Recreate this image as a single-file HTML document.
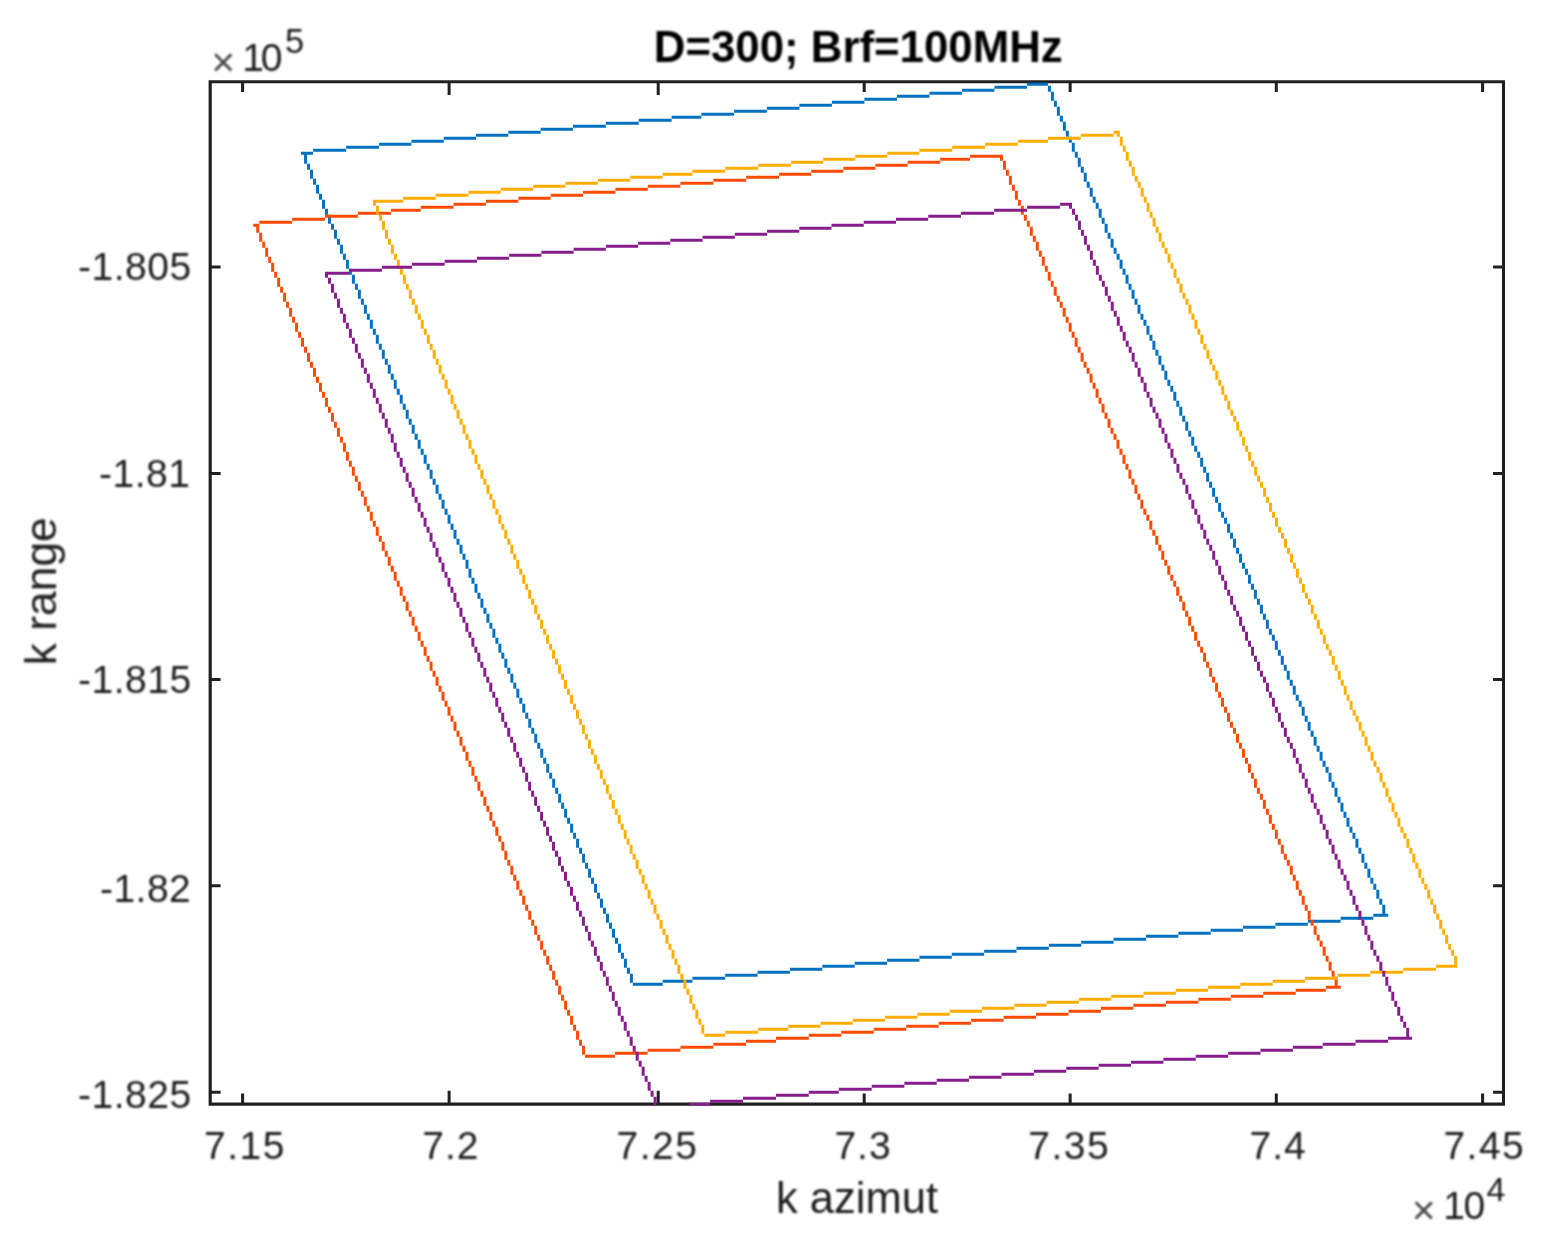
<!DOCTYPE html>
<html lang="en">
<head>
<meta charset="utf-8">
<title>D=300; Brf=100MHz</title>
<style>
html,body{margin:0;padding:0;background:#fff;}
body{width:1544px;height:1250px;overflow:hidden;}
svg{display:block;}
text{font-family:"Liberation Sans",sans-serif;white-space:pre;}
</style>
</head>
<body>
<svg width="1544" height="1250" viewBox="0 0 1544 1250">
<rect width="1544" height="1250" fill="#fff"/>
<defs><filter id="b2" x="-2%" y="-2%" width="104%" height="104%" color-interpolation-filters="sRGB"><feGaussianBlur stdDeviation="0.8"/></filter><clipPath id="c"><rect x="208.6" y="80.2" width="1296.4" height="1025.5"/></clipPath></defs>
<path fill="#202020" d="M208.6 80.2H1505V83.2H208.6ZM208.6 1102.6H1505V1105.7H208.6ZM208.6 80.2H211.8V1105.7H208.6ZM1502 80.2H1505V1105.7H1502ZM241.1 82.7H244.1V92H241.1ZM241.1 1093.6H244.1V1103.1H241.1ZM447.6 82.7H450.6V94.9H447.6ZM447.6 1090.7H450.6V1103.1H447.6ZM656.7 82.7H659.7V94.9H656.7ZM656.7 1090.7H659.7V1103.1H656.7ZM862.7 82.7H865.7V92H862.7ZM862.7 1093.6H865.7V1103.1H862.7ZM1068.65 82.7H1071.65V92H1068.65ZM1068.65 1093.6H1071.65V1103.1H1068.65ZM1274.8 82.7H1277.8V92H1274.8ZM1274.8 1093.6H1277.8V1103.1H1274.8ZM1481.1 82.7H1484.1V92H1481.1ZM1481.1 1093.6H1484.1V1103.1H1481.1ZM211.3 265.5H220.6V268.5H211.3ZM1493 265.5H1502.5V268.5H1493ZM211.3 471.9H220.6V474.9H211.3ZM1493 471.9H1502.5V474.9H1493ZM211.3 678.1H220.6V681.1H211.3ZM1493 678.1H1502.5V681.1H1493ZM211.3 884.3H220.6V887.3H211.3ZM1493 884.3H1502.5V887.3H1493ZM211.3 1090.7H220.6V1093.7H211.3ZM1493 1090.7H1502.5V1093.7H1493Z"/>
<g clip-path="url(#c)"><g>
<path fill="#0070C0" d="M300.96 151.8H313.13V154.8H300.96ZM313.13 148.8H346.17V151.8H313.13ZM346.17 145.8H379.07V148.8H346.17ZM379.07 142.8H411.38V145.8H379.07ZM411.38 139.8H443.7V142.8H411.38ZM443.7 136.8H476.01V139.8H443.7ZM476.01 133.8H508.32V136.8H476.01ZM508.32 130.8H540.64V133.8H508.32ZM540.64 127.8H572.95V130.8H540.64ZM572.95 124.8H605.85V127.8H572.95ZM605.85 121.8H638.76V124.8H605.85ZM638.76 118.8H671.6V121.8H638.76ZM671.6 115.8H701.35V118.8H671.6ZM701.35 112.8H734.1V115.8H701.35ZM734.1 109.8H766.9V112.8H734.1ZM766.9 106.8H799.4V109.8H766.9ZM799.4 103.8H831.91V106.8H799.4ZM831.91 100.8H864.41V103.8H831.91ZM864.41 97.8H896.92V100.8H864.41ZM896.92 94.8H929.43V97.8H896.92ZM929.43 91.8H961.93V94.8H929.43ZM961.93 88.8H994.44V91.8H961.93ZM994.44 85.8H1026.94V88.8H994.44ZM1026.94 82.8H1047.93V85.8H1026.94ZM632.84 982.8H662.73V985.8H632.84ZM662.73 979.8H692.45V982.8H662.73ZM692.45 976.8H725.2V979.8H692.45ZM725.2 973.8H757.57V976.8H725.2ZM757.57 970.8H789.93V973.8H757.57ZM789.93 967.8H822.3V970.8H789.93ZM822.3 964.8H854.67V967.8H822.3ZM854.67 961.8H887.03V964.8H854.67ZM887.03 958.8H919.4V961.8H887.03ZM919.4 955.8H951.77V958.8H919.4ZM951.77 952.8H984.13V955.8H951.77ZM984.13 949.8H1016.5V952.8H984.13ZM1016.5 946.8H1048.87V949.8H1016.5ZM1048.87 943.8H1081.23V946.8H1048.87ZM1081.23 940.8H1113.6V943.8H1081.23ZM1113.6 937.8H1145.97V940.8H1113.6ZM1145.97 934.8H1178.33V937.8H1145.97ZM1178.33 931.8H1210.7V934.8H1178.33ZM1210.7 928.8H1243.07V931.8H1210.7ZM1243.07 925.8H1275.43V928.8H1243.07ZM1275.43 922.8H1307.8V925.8H1275.43ZM1307.8 919.8H1340.6V922.8H1307.8ZM1340.6 916.8H1373.3V919.8H1340.6ZM1373.3 913.8H1388.2V916.8H1373.3ZM304.07 154.8H307.06V163.8H304.07ZM307.06 163.8H310.05V169.8H307.06ZM310.05 169.8H313.04V178.8H310.05ZM313.04 178.8H316.03V184.8H313.04ZM316.03 184.8H319.02V193.8H316.03ZM319.02 193.8H322.01V199.8H319.02ZM322.01 199.8H325V208.8H322.01ZM325 208.8H327.98V214.8H325ZM327.98 214.8H330.97V223.8H327.98ZM330.97 223.8H333.96V229.8H330.97ZM333.96 229.8H336.95V238.8H333.96ZM336.95 238.8H339.94V244.8H336.95ZM339.94 244.8H342.93V253.8H339.94ZM342.93 253.8H345.92V259.8H342.93ZM345.92 259.8H348.91V268.8H345.92ZM348.91 268.8H351.9V274.8H348.91ZM351.9 274.8H354.89V283.8H351.9ZM354.89 283.8H357.88V289.8H354.89ZM357.88 289.8H360.87V298.8H357.88ZM360.87 298.8H363.86V304.8H360.87ZM363.86 304.8H366.85V313.8H363.86ZM366.85 313.8H369.83V319.8H366.85ZM369.83 319.8H372.82V328.8H369.83ZM372.82 328.8H375.81V334.8H372.82ZM375.81 334.8H378.8V343.8H375.81ZM378.8 343.8H381.79V349.8H378.8ZM381.79 349.8H384.78V358.8H381.79ZM384.78 358.8H387.77V364.8H384.78ZM387.77 364.8H390.76V373.8H387.77ZM390.76 373.8H393.75V379.8H390.76ZM393.75 379.8H396.74V388.8H393.75ZM396.74 388.8H399.73V394.8H396.74ZM399.73 394.8H402.72V403.8H399.73ZM402.72 403.8H405.71V409.8H402.72ZM405.71 409.8H408.7V418.8H405.71ZM408.7 418.8H411.68V424.8H408.7ZM411.68 424.8H414.67V433.8H411.68ZM414.67 433.8H417.66V439.8H414.67ZM417.66 439.8H420.65V448.8H417.66ZM420.65 448.8H423.64V454.8H420.65ZM423.64 454.8H426.63V463.8H423.64ZM426.63 463.8H429.62V469.8H426.63ZM429.62 469.8H432.61V478.8H429.62ZM432.61 478.8H435.6V484.8H432.61ZM435.6 484.8H438.59V493.8H435.6ZM438.59 493.8H441.58V499.8H438.59ZM441.58 499.8H444.57V508.8H441.58ZM444.57 508.8H447.56V514.8H444.57ZM447.56 514.8H450.55V523.8H447.56ZM450.55 523.8H453.54V529.8H450.55ZM453.53 529.8H456.52V538.8H453.53ZM456.52 538.8H459.51V544.8H456.52ZM459.51 544.8H462.5V553.8H459.51ZM462.5 553.8H465.49V559.8H462.5ZM465.49 559.8H468.48V568.8H465.49ZM468.48 568.8H471.47V577.8H468.48ZM471.47 577.8H474.46V583.8H471.47ZM474.46 583.8H477.45V592.8H474.46ZM477.45 592.8H480.44V598.8H477.45ZM480.44 598.8H483.43V607.8H480.44ZM483.43 607.8H486.42V613.8H483.43ZM486.42 613.8H489.41V622.8H486.42ZM489.41 622.8H492.4V628.8H489.41ZM492.4 628.8H495.39V637.8H492.4ZM495.39 637.8H498.37V643.8H495.39ZM498.37 643.8H501.36V652.8H498.37ZM501.36 652.8H504.35V658.8H501.36ZM504.35 658.8H507.34V667.8H504.35ZM507.34 667.8H510.33V673.8H507.34ZM510.33 673.8H513.32V682.8H510.33ZM513.32 682.8H516.31V688.8H513.32ZM516.31 688.8H519.3V697.8H516.31ZM519.3 697.8H522.29V703.8H519.3ZM522.29 703.8H525.28V712.8H522.29ZM525.28 712.8H528.27V718.8H525.28ZM528.27 718.8H531.26V727.8H528.27ZM531.26 727.8H534.25V733.8H531.26ZM534.25 733.8H537.24V742.8H534.25ZM537.24 742.8H540.22V748.8H537.24ZM540.22 748.8H543.21V757.8H540.22ZM543.21 757.8H546.2V763.8H543.21ZM546.2 763.8H549.19V772.8H546.2ZM549.19 772.8H552.18V778.8H549.19ZM552.18 778.8H555.17V787.8H552.18ZM555.17 787.8H558.16V793.8H555.17ZM558.16 793.8H561.15V802.8H558.16ZM561.15 802.8H564.14V808.8H561.15ZM564.14 808.8H567.13V817.8H564.14ZM567.13 817.8H570.12V823.8H567.13ZM570.12 823.8H573.11V832.8H570.12ZM573.11 832.8H576.1V838.8H573.11ZM576.1 838.8H579.09V847.8H576.1ZM579.09 847.8H582.07V853.8H579.09ZM582.07 853.8H585.06V862.8H582.07ZM585.06 862.8H588.05V868.8H585.06ZM588.05 868.8H591.04V877.8H588.05ZM591.04 877.8H594.03V883.8H591.04ZM594.03 883.8H597.02V892.8H594.03ZM597.02 892.8H600.01V898.8H597.02ZM600.01 898.8H603V907.8H600.01ZM603 907.8H605.99V913.8H603ZM605.99 913.8H608.98V922.8H605.99ZM608.98 922.8H611.97V928.8H608.98ZM611.97 928.8H614.96V937.8H611.97ZM614.96 937.8H617.95V943.8H614.96ZM617.95 943.8H620.94V952.8H617.95ZM620.94 952.8H623.93V958.8H620.94ZM623.93 958.8H626.91V967.8H623.93ZM626.91 967.8H629.9V973.8H626.91ZM629.9 973.8H632.89V982.8H629.9ZM1047.93 85.8H1050.92V91.8H1047.93ZM1050.92 91.8H1053.9V100.8H1050.92ZM1053.9 100.8H1056.89V106.8H1053.9ZM1056.89 106.8H1059.87V115.8H1056.89ZM1059.87 115.8H1062.86V121.8H1059.87ZM1062.86 121.8H1065.84V130.8H1062.86ZM1065.84 130.8H1068.83V136.8H1065.84ZM1068.83 136.8H1071.81V142.8H1068.83ZM1071.81 142.8H1074.8V151.8H1071.81ZM1074.8 151.8H1077.78V157.8H1074.8ZM1077.78 157.8H1080.77V166.8H1077.78ZM1080.77 166.8H1083.75V172.8H1080.77ZM1083.75 172.8H1086.74V181.8H1083.75ZM1086.74 181.8H1089.73V187.8H1086.74ZM1089.73 187.8H1092.71V196.8H1089.73ZM1092.71 196.8H1095.7V202.8H1092.71ZM1095.7 202.8H1098.68V208.8H1095.7ZM1098.68 208.8H1101.67V217.8H1098.68ZM1101.67 217.8H1104.65V223.8H1101.67ZM1104.65 223.8H1107.64V232.8H1104.65ZM1107.64 232.8H1110.62V238.8H1107.64ZM1110.62 238.8H1113.61V247.8H1110.62ZM1113.61 247.8H1116.59V253.8H1113.61ZM1116.59 253.8H1119.58V259.8H1116.59ZM1119.58 259.8H1122.57V268.8H1119.58ZM1122.57 268.8H1125.55V274.8H1122.57ZM1125.55 274.8H1128.54V283.8H1125.55ZM1128.54 283.8H1131.52V289.8H1128.54ZM1131.52 289.8H1134.51V298.8H1131.52ZM1134.51 298.8H1137.49V304.8H1134.51ZM1137.49 304.8H1140.48V313.8H1137.49ZM1140.48 313.8H1143.46V319.8H1140.48ZM1143.46 319.8H1146.45V325.8H1143.46ZM1146.45 325.8H1149.43V334.8H1146.45ZM1149.43 334.8H1152.42V340.8H1149.43ZM1152.42 340.8H1155.4V349.8H1152.42ZM1155.4 349.8H1158.39V355.8H1155.4ZM1158.39 355.8H1161.38V364.8H1158.39ZM1161.38 364.8H1164.36V370.8H1161.38ZM1164.36 370.8H1167.35V379.8H1164.36ZM1167.35 379.8H1170.33V385.8H1167.35ZM1170.33 385.8H1173.32V391.8H1170.33ZM1173.32 391.8H1176.3V400.8H1173.32ZM1176.3 400.8H1179.29V406.8H1176.3ZM1179.29 406.8H1182.27V415.8H1179.29ZM1182.27 415.8H1185.26V421.8H1182.27ZM1185.26 421.8H1188.24V430.8H1185.26ZM1188.24 430.8H1191.23V436.8H1188.24ZM1191.23 436.8H1194.21V445.8H1191.23ZM1194.21 445.8H1197.2V451.8H1194.21ZM1197.2 451.8H1200.19V457.8H1197.2ZM1200.19 457.8H1203.17V466.8H1200.19ZM1203.17 466.8H1206.16V472.8H1203.17ZM1206.16 472.8H1209.14V481.8H1206.16ZM1209.14 481.8H1212.13V487.8H1209.14ZM1212.13 487.8H1215.11V496.8H1212.13ZM1215.11 496.8H1218.1V502.8H1215.11ZM1218.1 502.8H1221.08V511.8H1218.1ZM1221.08 511.8H1224.07V517.8H1221.08ZM1224.07 517.8H1227.05V523.8H1224.07ZM1227.05 523.8H1230.04V532.8H1227.05ZM1230.04 532.8H1233.02V538.8H1230.04ZM1233.02 538.8H1236.01V547.8H1233.02ZM1236.01 547.8H1239V553.8H1236.01ZM1239 553.8H1241.98V562.8H1239ZM1241.98 562.8H1244.97V568.8H1241.98ZM1244.97 568.8H1247.95V574.8H1244.97ZM1247.95 574.8H1250.94V583.8H1247.95ZM1250.94 583.8H1253.92V589.8H1250.94ZM1253.92 589.8H1256.91V598.8H1253.92ZM1256.91 598.8H1259.89V604.8H1256.91ZM1259.89 604.8H1262.88V613.8H1259.89ZM1262.88 613.8H1265.86V619.8H1262.88ZM1265.86 619.8H1268.85V628.8H1265.86ZM1268.85 628.8H1271.84V634.8H1268.85ZM1271.84 634.8H1274.82V640.8H1271.84ZM1274.82 640.8H1277.81V649.8H1274.82ZM1277.81 649.8H1280.79V655.8H1277.81ZM1280.79 655.8H1283.78V664.8H1280.79ZM1283.78 664.8H1286.76V670.8H1283.78ZM1286.76 670.8H1289.75V679.8H1286.76ZM1289.75 679.8H1292.73V685.8H1289.75ZM1292.73 685.8H1295.72V694.8H1292.73ZM1295.72 694.8H1298.7V700.8H1295.72ZM1298.7 700.8H1301.69V706.8H1298.7ZM1301.69 706.8H1304.67V715.8H1301.69ZM1304.67 715.8H1307.66V721.8H1304.67ZM1307.66 721.8H1310.65V730.8H1307.66ZM1310.65 730.8H1313.63V736.8H1310.65ZM1313.63 736.8H1316.62V745.8H1313.63ZM1316.62 745.8H1319.6V751.8H1316.62ZM1319.6 751.8H1322.59V760.8H1319.6ZM1322.59 760.8H1325.57V766.8H1322.59ZM1325.57 766.8H1328.56V772.8H1325.57ZM1328.56 772.8H1331.54V781.8H1328.56ZM1331.54 781.8H1334.53V787.8H1331.54ZM1334.53 787.8H1337.51V796.8H1334.53ZM1337.51 796.8H1340.5V802.8H1337.51ZM1340.5 802.8H1343.48V811.8H1340.5ZM1343.48 811.8H1346.47V817.8H1343.48ZM1346.47 817.8H1349.46V826.8H1346.47ZM1349.46 826.8H1352.44V832.8H1349.46ZM1352.44 832.8H1355.43V838.8H1352.44ZM1355.43 838.8H1358.41V847.8H1355.43ZM1358.41 847.8H1361.4V853.8H1358.41ZM1361.4 853.8H1364.38V862.8H1361.4ZM1364.38 862.8H1367.37V868.8H1364.38ZM1367.37 868.8H1370.35V877.8H1367.37ZM1370.35 877.8H1373.34V883.8H1370.35ZM1373.34 883.8H1376.32V889.8H1373.34ZM1376.32 889.8H1379.31V898.8H1376.32ZM1379.31 898.8H1382.29V904.8H1379.31ZM1382.29 904.8H1385.28V913.8H1382.29Z"/>
<path fill="#FA4B00" d="M253.17 223.8H259.3V226.8H253.17ZM259.3 220.8H292.15V223.8H259.3ZM292.15 217.8H325V220.8H292.15ZM325 214.8H357.85V217.8H325ZM357.85 211.8H390.9V214.8H357.85ZM390.9 208.8H420.8V211.8H390.9ZM420.8 205.8H453.5V208.8H420.8ZM453.5 202.8H485.88V205.8H453.5ZM485.88 199.8H518.27V202.8H485.88ZM518.27 196.8H550.65V199.8H518.27ZM550.65 193.8H583.03V196.8H550.65ZM583.03 190.8H615.42V193.8H583.03ZM615.42 187.8H647.8V190.8H615.42ZM647.8 184.8H680.4V187.8H647.8ZM680.4 181.8H713.4V184.8H680.4ZM713.4 178.8H746.2V181.8H713.4ZM746.2 175.8H779.1V178.8H746.2ZM779.1 172.8H811.23V175.8H779.1ZM811.23 169.8H843.35V172.8H811.23ZM843.35 166.8H875.48V169.8H843.35ZM875.48 163.8H907.6V166.8H875.48ZM907.6 160.8H940.2V163.8H907.6ZM940.2 157.8H970.05V160.8H940.2ZM970.05 154.8H1002.9V157.8H970.05ZM585 1054.8H614.9V1057.8H585ZM614.9 1051.8H647.6V1054.8H614.9ZM647.6 1048.8H680.5V1051.8H647.6ZM680.5 1045.8H713.3V1048.8H680.5ZM713.3 1042.8H746.1V1045.8H713.3ZM746.1 1039.8H776V1042.8H746.1ZM776 1036.8H808.8V1039.8H776ZM808.8 1033.8H841.26V1036.8H808.8ZM841.26 1030.8H873.72V1033.8H841.26ZM873.72 1027.8H906.18V1030.8H873.72ZM906.18 1024.8H938.64V1027.8H906.18ZM938.64 1021.8H971.1V1024.8H938.64ZM971.1 1018.8H1003.56V1021.8H971.1ZM1003.56 1015.8H1036.02V1018.8H1003.56ZM1036.02 1012.8H1068.48V1015.8H1036.02ZM1068.48 1009.8H1100.94V1012.8H1068.48ZM1100.94 1006.8H1133.4V1009.8H1100.94ZM1133.4 1003.8H1165.86V1006.8H1133.4ZM1165.86 1000.8H1198.32V1003.8H1165.86ZM1198.32 997.8H1230.78V1000.8H1198.32ZM1230.78 994.8H1263.24V997.8H1230.78ZM1263.24 991.8H1295.7V994.8H1263.24ZM1295.7 988.8H1325.8V991.8H1295.7ZM1325.8 985.8H1340.8V988.8H1325.8ZM256.2 226.8H259.19V232.8H256.2ZM259.19 232.8H262.18V241.8H259.19ZM262.18 241.8H265.17V247.8H262.18ZM265.17 247.8H268.16V256.8H265.17ZM268.16 256.8H271.15V262.8H268.16ZM271.15 262.8H274.14V271.8H271.15ZM274.14 271.8H277.13V277.8H274.14ZM277.13 277.8H280.12V286.8H277.13ZM280.12 286.8H283.1V292.8H280.12ZM283.1 292.8H286.09V301.8H283.1ZM286.09 301.8H289.08V307.8H286.09ZM289.08 307.8H292.07V316.8H289.08ZM292.07 316.8H295.06V322.8H292.07ZM295.06 322.8H298.05V331.8H295.06ZM298.05 331.8H301.04V337.8H298.05ZM301.04 337.8H304.03V346.8H301.04ZM304.03 346.8H307.02V352.8H304.03ZM307.02 352.8H310.01V361.8H307.02ZM310.01 361.8H313V367.8H310.01ZM313 367.8H315.99V376.8H313ZM315.99 376.8H318.98V382.8H315.99ZM318.98 382.8H321.97V391.8H318.98ZM321.97 391.8H324.96V397.8H321.97ZM324.96 397.8H327.95V406.8H324.96ZM327.95 406.8H330.94V412.8H327.95ZM330.94 412.8H333.92V421.8H330.94ZM333.92 421.8H336.91V427.8H333.92ZM336.91 427.8H339.9V436.8H336.91ZM339.9 436.8H342.89V442.8H339.9ZM342.89 442.8H345.88V451.8H342.89ZM345.88 451.8H348.87V460.8H345.88ZM348.87 460.8H351.86V466.8H348.87ZM351.86 466.8H354.85V475.8H351.86ZM354.85 475.8H357.84V481.8H354.85ZM357.84 481.8H360.83V490.8H357.84ZM360.83 490.8H363.82V496.8H360.83ZM363.82 496.8H366.81V505.8H363.82ZM366.81 505.8H369.8V511.8H366.81ZM369.8 511.8H372.79V520.8H369.8ZM372.79 520.8H375.78V526.8H372.79ZM375.78 526.8H378.77V535.8H375.78ZM378.77 535.8H381.75V541.8H378.77ZM381.75 541.8H384.74V550.8H381.75ZM384.74 550.8H387.73V556.8H384.74ZM387.73 556.8H390.72V565.8H387.73ZM390.72 565.8H393.71V571.8H390.72ZM393.71 571.8H396.7V580.8H393.71ZM396.7 580.8H399.69V586.8H396.7ZM399.69 586.8H402.68V595.8H399.69ZM402.68 595.8H405.67V601.8H402.68ZM405.67 601.8H408.66V610.8H405.67ZM408.66 610.8H411.65V616.8H408.66ZM411.65 616.8H414.64V625.8H411.65ZM414.64 625.8H417.63V631.8H414.64ZM417.63 631.8H420.62V640.8H417.63ZM420.62 640.8H423.61V646.8H420.62ZM423.61 646.8H426.6V655.8H423.61ZM426.6 655.8H429.59V661.8H426.6ZM429.59 661.8H432.57V670.8H429.59ZM432.57 670.8H435.56V676.8H432.57ZM435.56 676.8H438.55V685.8H435.56ZM438.55 685.8H441.54V691.8H438.55ZM441.54 691.8H444.53V700.8H441.54ZM444.53 700.8H447.52V706.8H444.53ZM447.52 706.8H450.51V715.8H447.52ZM450.51 715.8H453.5V721.8H450.51ZM453.5 721.8H456.49V730.8H453.5ZM456.49 730.8H459.48V736.8H456.49ZM459.48 736.8H462.47V745.8H459.48ZM462.47 745.8H465.46V751.8H462.47ZM465.46 751.8H468.45V760.8H465.46ZM468.45 760.8H471.44V766.8H468.45ZM471.44 766.8H474.43V775.8H471.44ZM474.43 775.8H477.42V781.8H474.43ZM477.42 781.8H480.4V790.8H477.42ZM480.4 790.8H483.39V796.8H480.4ZM483.39 796.8H486.38V805.8H483.39ZM486.38 805.8H489.37V811.8H486.38ZM489.37 811.8H492.36V820.8H489.37ZM492.36 820.8H495.35V826.8H492.36ZM495.35 826.8H498.34V835.8H495.35ZM498.34 835.8H501.33V841.8H498.34ZM501.33 841.8H504.32V850.8H501.33ZM504.32 850.8H507.31V859.8H504.32ZM507.31 859.8H510.3V865.8H507.31ZM510.3 865.8H513.29V874.8H510.3ZM513.29 874.8H516.28V880.8H513.29ZM516.28 880.8H519.27V889.8H516.28ZM519.27 889.8H522.26V895.8H519.27ZM522.26 895.8H525.25V904.8H522.26ZM525.25 904.8H528.24V910.8H525.25ZM528.24 910.8H531.22V919.8H528.24ZM531.22 919.8H534.21V925.8H531.22ZM534.21 925.8H537.2V934.8H534.21ZM537.2 934.8H540.19V940.8H537.2ZM540.19 940.8H543.18V949.8H540.19ZM543.18 949.8H546.17V955.8H543.18ZM546.17 955.8H549.16V964.8H546.17ZM549.16 964.8H552.15V970.8H549.16ZM552.15 970.8H555.14V979.8H552.15ZM555.14 979.8H558.13V985.8H555.14ZM558.13 985.8H561.12V994.8H558.13ZM561.12 994.8H564.11V1000.8H561.12ZM564.11 1000.8H567.1V1009.8H564.11ZM567.1 1009.8H570.09V1015.8H567.1ZM570.09 1015.8H573.08V1024.8H570.09ZM573.08 1024.8H576.07V1030.8H573.08ZM576.07 1030.8H579.06V1039.8H576.07ZM579.06 1039.8H582.04V1045.8H579.06ZM582.04 1045.8H585.03V1054.8H582.04ZM999.94 154.8H1002.93V160.8H999.94ZM1002.93 160.8H1005.92V169.8H1002.93ZM1005.92 169.8H1008.9V175.8H1005.92ZM1008.9 175.8H1011.89V184.8H1008.9ZM1011.89 184.8H1014.88V190.8H1011.89ZM1014.88 190.8H1017.87V199.8H1014.88ZM1017.87 199.8H1020.86V205.8H1017.87ZM1020.86 205.8H1023.84V214.8H1020.86ZM1023.84 214.8H1026.83V220.8H1023.84ZM1026.83 220.8H1029.82V226.8H1026.83ZM1029.82 226.8H1032.81V235.8H1029.82ZM1032.81 235.8H1035.8V241.8H1032.81ZM1035.8 241.8H1038.78V250.8H1035.8ZM1038.78 250.8H1041.77V256.8H1038.78ZM1041.77 256.8H1044.76V265.8H1041.77ZM1044.76 265.8H1047.75V271.8H1044.76ZM1047.75 271.8H1050.74V280.8H1047.75ZM1050.74 280.8H1053.72V286.8H1050.74ZM1053.72 286.8H1056.71V295.8H1053.72ZM1056.71 295.8H1059.7V301.8H1056.71ZM1059.7 301.8H1062.69V307.8H1059.7ZM1062.69 307.8H1065.68V316.8H1062.69ZM1065.68 316.8H1068.66V322.8H1065.68ZM1068.66 322.8H1071.65V331.8H1068.66ZM1071.65 331.8H1074.64V337.8H1071.65ZM1074.64 337.8H1077.63V346.8H1074.64ZM1077.63 346.8H1080.62V352.8H1077.63ZM1080.62 352.8H1083.6V361.8H1080.62ZM1083.6 361.8H1086.59V367.8H1083.6ZM1086.59 367.8H1089.58V373.8H1086.59ZM1089.58 373.8H1092.57V382.8H1089.58ZM1092.57 382.8H1095.56V388.8H1092.57ZM1095.56 388.8H1098.54V397.8H1095.56ZM1098.54 397.8H1101.53V403.8H1098.54ZM1101.53 403.8H1104.52V412.8H1101.53ZM1104.52 412.8H1107.51V418.8H1104.52ZM1107.51 418.8H1110.5V427.8H1107.51ZM1110.5 427.8H1113.48V433.8H1110.5ZM1113.48 433.8H1116.47V439.8H1113.48ZM1116.47 439.8H1119.46V448.8H1116.47ZM1119.46 448.8H1122.45V454.8H1119.46ZM1122.45 454.8H1125.44V463.8H1122.45ZM1125.44 463.8H1128.42V469.8H1125.44ZM1128.42 469.8H1131.41V478.8H1128.42ZM1131.41 478.8H1134.4V484.8H1131.41ZM1134.4 484.8H1137.39V493.8H1134.4ZM1137.39 493.8H1140.38V499.8H1137.39ZM1140.38 499.8H1143.36V508.8H1140.38ZM1143.36 508.8H1146.35V514.8H1143.36ZM1146.35 514.8H1149.34V520.8H1146.35ZM1149.34 520.8H1152.33V529.8H1149.34ZM1152.33 529.8H1155.32V535.8H1152.33ZM1155.32 535.8H1158.3V544.8H1155.32ZM1158.3 544.8H1161.29V550.8H1158.3ZM1161.29 550.8H1164.28V559.8H1161.29ZM1164.28 559.8H1167.27V565.8H1164.28ZM1167.27 565.8H1170.26V574.8H1167.27ZM1170.26 574.8H1173.24V580.8H1170.26ZM1173.24 580.8H1176.23V586.8H1173.24ZM1176.23 586.8H1179.22V595.8H1176.23ZM1179.22 595.8H1182.21V601.8H1179.22ZM1182.21 601.8H1185.2V610.8H1182.21ZM1185.2 610.8H1188.18V616.8H1185.2ZM1188.18 616.8H1191.17V625.8H1188.18ZM1191.17 625.8H1194.16V631.8H1191.17ZM1194.16 631.8H1197.15V640.8H1194.16ZM1197.15 640.8H1200.14V646.8H1197.15ZM1200.14 646.8H1203.12V652.8H1200.14ZM1203.12 652.8H1206.11V661.8H1203.12ZM1206.11 661.8H1209.1V667.8H1206.11ZM1209.1 667.8H1212.09V676.8H1209.1ZM1212.09 676.8H1215.08V682.8H1212.09ZM1215.08 682.8H1218.06V691.8H1215.08ZM1218.06 691.8H1221.05V697.8H1218.06ZM1221.05 697.8H1224.04V706.8H1221.05ZM1224.04 706.8H1227.03V712.8H1224.04ZM1227.03 712.8H1230.02V721.8H1227.03ZM1230.02 721.8H1233V727.8H1230.02ZM1233 727.8H1235.99V733.8H1233ZM1235.99 733.8H1238.98V742.8H1235.99ZM1238.98 742.8H1241.97V748.8H1238.98ZM1241.97 748.8H1244.96V757.8H1241.97ZM1244.96 757.8H1247.94V763.8H1244.96ZM1247.94 763.8H1250.93V772.8H1247.94ZM1250.93 772.8H1253.92V778.8H1250.93ZM1253.92 778.8H1256.91V787.8H1253.92ZM1256.91 787.8H1259.9V793.8H1256.91ZM1259.9 793.8H1262.88V799.8H1259.9ZM1262.88 799.8H1265.87V808.8H1262.88ZM1265.87 808.8H1268.86V814.8H1265.87ZM1268.86 814.8H1271.85V823.8H1268.86ZM1271.85 823.8H1274.84V829.8H1271.85ZM1274.84 829.8H1277.82V838.8H1274.84ZM1277.82 838.8H1280.81V844.8H1277.82ZM1280.81 844.8H1283.8V853.8H1280.81ZM1283.8 853.8H1286.79V859.8H1283.8ZM1286.79 859.8H1289.78V865.8H1286.79ZM1289.78 865.8H1292.76V874.8H1289.78ZM1292.76 874.8H1295.75V880.8H1292.76ZM1295.75 880.8H1298.74V889.8H1295.75ZM1298.74 889.8H1301.73V895.8H1298.74ZM1301.73 895.8H1304.72V904.8H1301.73ZM1304.72 904.8H1307.7V910.8H1304.72ZM1307.7 910.8H1310.69V919.8H1307.7ZM1310.69 919.8H1313.68V925.8H1310.69ZM1313.68 925.8H1316.67V934.8H1313.68ZM1316.67 934.8H1319.66V940.8H1316.67ZM1319.66 940.8H1322.64V946.8H1319.66ZM1322.64 946.8H1325.63V955.8H1322.64ZM1325.63 955.8H1328.62V961.8H1325.63ZM1328.62 961.8H1331.61V970.8H1328.62ZM1331.61 970.8H1334.6V976.8H1331.61ZM1334.6 976.8H1337.58V985.8H1334.6Z"/>
<path fill="#FFAE00" d="M373 199.8H403V202.8H373ZM403 196.8H435.7V199.8H403ZM435.7 193.8H468.4V196.8H435.7ZM468.4 190.8H500.77V193.8H468.4ZM500.77 187.8H533.13V190.8H500.77ZM533.13 184.8H565.5V187.8H533.13ZM565.5 181.8H597.87V184.8H565.5ZM597.87 178.8H630.23V181.8H597.87ZM630.23 175.8H662.6V178.8H630.23ZM662.6 172.8H692.3V175.8H662.6ZM692.3 169.8H725.2V172.8H692.3ZM725.2 166.8H758.1V169.8H725.2ZM758.1 163.8H791.1V166.8H758.1ZM791.1 160.8H823.17V163.8H791.1ZM823.17 157.8H855.25V160.8H823.17ZM855.25 154.8H887.33V157.8H855.25ZM887.33 151.8H919.4V154.8H887.33ZM919.4 148.8H952.2V151.8H919.4ZM952.2 145.8H985.04V148.8H952.2ZM985.04 142.8H1017.9V145.8H985.04ZM1017.9 139.8H1047.95V142.8H1017.9ZM1047.95 136.8H1080.8V139.8H1047.95ZM1080.8 133.8H1113.46V136.8H1080.8ZM1113.46 130.8H1119.8V133.8H1113.46ZM704.4 1033.8H725.2V1036.8H704.4ZM725.2 1030.8H758.05V1033.8H725.2ZM758.05 1027.8H788.2V1030.8H758.05ZM788.2 1024.8H820.5V1027.8H788.2ZM820.5 1021.8H852.8V1024.8H820.5ZM852.8 1018.8H885.1V1021.8H852.8ZM885.1 1015.8H917.4V1018.8H885.1ZM917.4 1012.8H949.7V1015.8H917.4ZM949.7 1009.8H982V1012.8H949.7ZM982 1006.8H1014.3V1009.8H982ZM1014.3 1003.8H1046.6V1006.8H1014.3ZM1046.6 1000.8H1078.9V1003.8H1046.6ZM1078.9 997.8H1111.2V1000.8H1078.9ZM1111.2 994.8H1143.5V997.8H1111.2ZM1143.5 991.8H1175.8V994.8H1143.5ZM1175.8 988.8H1208.1V991.8H1175.8ZM1208.1 985.8H1240.4V988.8H1208.1ZM1240.4 982.8H1272.7V985.8H1240.4ZM1272.7 979.8H1305V982.8H1272.7ZM1305 976.8H1337.6V979.8H1305ZM1337.6 973.8H1370.3V976.8H1337.6ZM1370.3 970.8H1403.15V973.8H1370.3ZM1403.15 967.8H1436.05V970.8H1403.15ZM1436.05 964.8H1457.1V967.8H1436.05ZM373 199.8H375.98V205.8H373ZM375.98 205.8H378.97V214.8H375.98ZM378.97 214.8H381.95V220.8H378.97ZM381.95 220.8H384.94V229.8H381.95ZM384.94 229.8H387.92V238.8H384.94ZM387.92 238.8H390.91V244.8H387.92ZM390.91 244.8H393.89V253.8H390.91ZM393.89 253.8H396.88V259.8H393.89ZM396.88 259.8H399.86V268.8H396.88ZM399.86 268.8H402.85V274.8H399.86ZM402.85 274.8H405.83V283.8H402.85ZM405.83 283.8H408.81V289.8H405.83ZM408.81 289.8H411.8V298.8H408.81ZM411.8 298.8H414.78V304.8H411.8ZM414.78 304.8H417.77V313.8H414.78ZM417.77 313.8H420.75V319.8H417.77ZM420.75 319.8H423.74V328.8H420.75ZM423.74 328.8H426.72V334.8H423.74ZM426.72 334.8H429.71V343.8H426.72ZM429.71 343.8H432.69V349.8H429.71ZM432.69 349.8H435.67V358.8H432.69ZM435.67 358.8H438.66V364.8H435.67ZM438.66 364.8H441.64V373.8H438.66ZM441.64 373.8H444.63V379.8H441.64ZM444.63 379.8H447.61V388.8H444.63ZM447.61 388.8H450.6V394.8H447.61ZM450.6 394.8H453.58V403.8H450.6ZM453.58 403.8H456.57V409.8H453.58ZM456.57 409.8H459.55V418.8H456.57ZM459.55 418.8H462.54V424.8H459.55ZM462.54 424.8H465.52V433.8H462.54ZM465.52 433.8H468.5V439.8H465.52ZM468.5 439.8H471.49V448.8H468.5ZM471.49 448.8H474.47V454.8H471.49ZM474.47 454.8H477.46V463.8H474.47ZM477.46 463.8H480.44V469.8H477.46ZM480.44 469.8H483.43V478.8H480.44ZM483.43 478.8H486.41V484.8H483.43ZM486.41 484.8H489.4V493.8H486.41ZM489.4 493.8H492.38V499.8H489.4ZM492.38 499.8H495.36V508.8H492.38ZM495.36 508.8H498.35V514.8H495.36ZM498.35 514.8H501.33V523.8H498.35ZM501.33 523.8H504.32V529.8H501.33ZM504.32 529.8H507.3V538.8H504.32ZM507.3 538.8H510.29V544.8H507.3ZM510.29 544.8H513.27V553.8H510.29ZM513.27 553.8H516.26V559.8H513.27ZM516.26 559.8H519.24V568.8H516.26ZM519.24 568.8H522.23V574.8H519.24ZM522.23 574.8H525.21V583.8H522.23ZM525.21 583.8H528.19V589.8H525.21ZM528.19 589.8H531.18V598.8H528.19ZM531.18 598.8H534.16V604.8H531.18ZM534.16 604.8H537.15V613.8H534.16ZM537.15 613.8H540.13V619.8H537.15ZM540.13 619.8H543.12V628.8H540.13ZM543.12 628.8H546.1V634.8H543.12ZM546.1 634.8H549.09V643.8H546.1ZM549.09 643.8H552.07V649.8H549.09ZM552.07 649.8H555.05V658.8H552.07ZM555.05 658.8H558.04V664.8H555.05ZM558.04 664.8H561.02V673.8H558.04ZM561.02 673.8H564.01V679.8H561.02ZM564.01 679.8H566.99V688.8H564.01ZM566.99 688.8H569.98V694.8H566.99ZM569.98 694.8H572.96V703.8H569.98ZM572.96 703.8H575.95V709.8H572.96ZM575.95 709.8H578.93V718.8H575.95ZM578.93 718.8H581.92V724.8H578.93ZM581.91 724.8H584.9V733.8H581.91ZM584.9 733.8H587.88V739.8H584.9ZM587.88 739.8H590.87V748.8H587.88ZM590.87 748.8H593.85V754.8H590.87ZM593.85 754.8H596.84V763.8H593.85ZM596.84 763.8H599.82V769.8H596.84ZM599.82 769.8H602.81V778.8H599.82ZM602.81 778.8H605.79V784.8H602.81ZM605.79 784.8H608.78V793.8H605.79ZM608.78 793.8H611.76V799.8H608.78ZM611.76 799.8H614.74V808.8H611.76ZM614.74 808.8H617.73V814.8H614.74ZM617.73 814.8H620.71V823.8H617.73ZM620.71 823.8H623.7V829.8H620.71ZM623.7 829.8H626.68V838.8H623.7ZM626.68 838.8H629.67V844.8H626.68ZM629.67 844.8H632.65V853.8H629.67ZM632.65 853.8H635.64V859.8H632.65ZM635.64 859.8H638.62V868.8H635.64ZM638.62 868.8H641.61V874.8H638.62ZM641.61 874.8H644.59V883.8H641.61ZM644.59 883.8H647.57V889.8H644.59ZM647.57 889.8H650.56V898.8H647.57ZM650.56 898.8H653.54V904.8H650.56ZM653.54 904.8H656.53V913.8H653.54ZM656.53 913.8H659.51V919.8H656.53ZM659.51 919.8H662.5V928.8H659.51ZM662.5 928.8H665.48V934.8H662.5ZM665.48 934.8H668.47V943.8H665.48ZM668.47 943.8H671.45V949.8H668.47ZM671.45 949.8H674.43V958.8H671.45ZM674.43 958.8H677.42V964.8H674.43ZM677.42 964.8H680.4V973.8H677.42ZM680.4 973.8H683.39V979.8H680.4ZM683.39 979.8H686.37V988.8H683.39ZM686.37 988.8H689.36V994.8H686.37ZM689.36 994.8H692.34V1003.8H689.36ZM692.34 1003.8H695.33V1009.8H692.34ZM695.33 1009.8H698.31V1018.8H695.33ZM698.31 1018.8H701.3V1024.8H698.31ZM701.3 1024.8H704.28V1033.8H701.3ZM1116.8 130.8H1119.79V136.8H1116.8ZM1119.79 136.8H1122.77V145.8H1119.79ZM1122.77 145.8H1125.76V151.8H1122.77ZM1125.76 151.8H1128.74V160.8H1125.76ZM1128.74 160.8H1131.73V166.8H1128.74ZM1131.73 166.8H1134.71V175.8H1131.73ZM1134.71 175.8H1137.7V181.8H1134.71ZM1137.7 181.8H1140.68V187.8H1137.7ZM1140.68 187.8H1143.67V196.8H1140.68ZM1143.67 196.8H1146.65V202.8H1143.67ZM1146.65 202.8H1149.64V211.8H1146.65ZM1149.64 211.8H1152.62V217.8H1149.64ZM1152.62 217.8H1155.61V226.8H1152.62ZM1155.61 226.8H1158.6V232.8H1155.61ZM1158.6 232.8H1161.58V241.8H1158.6ZM1161.58 241.8H1164.57V247.8H1161.58ZM1164.57 247.8H1167.55V253.8H1164.57ZM1167.55 253.8H1170.54V262.8H1167.55ZM1170.54 262.8H1173.52V268.8H1170.54ZM1173.52 268.8H1176.51V277.8H1173.52ZM1176.51 277.8H1179.49V283.8H1176.51ZM1179.49 283.8H1182.48V292.8H1179.49ZM1182.48 292.8H1185.46V298.8H1182.48ZM1185.46 298.8H1188.45V304.8H1185.46ZM1188.45 304.8H1191.43V313.8H1188.45ZM1191.43 313.8H1194.42V319.8H1191.43ZM1194.42 319.8H1197.41V328.8H1194.42ZM1197.41 328.8H1200.39V334.8H1197.41ZM1200.39 334.8H1203.38V343.8H1200.39ZM1203.38 343.8H1206.36V349.8H1203.38ZM1206.36 349.8H1209.35V358.8H1206.36ZM1209.35 358.8H1212.33V364.8H1209.35ZM1212.33 364.8H1215.32V370.8H1212.33ZM1215.32 370.8H1218.3V379.8H1215.32ZM1218.3 379.8H1221.29V385.8H1218.3ZM1221.29 385.8H1224.27V394.8H1221.29ZM1224.27 394.8H1227.26V400.8H1224.27ZM1227.26 400.8H1230.25V409.8H1227.26ZM1230.25 409.8H1233.23V415.8H1230.25ZM1233.23 415.8H1236.22V421.8H1233.23ZM1236.22 421.8H1239.2V430.8H1236.22ZM1239.2 430.8H1242.19V436.8H1239.2ZM1242.19 436.8H1245.17V445.8H1242.19ZM1245.17 445.8H1248.16V451.8H1245.17ZM1248.16 451.8H1251.14V460.8H1248.16ZM1251.14 460.8H1254.13V466.8H1251.14ZM1254.13 466.8H1257.11V475.8H1254.13ZM1257.11 475.8H1260.1V481.8H1257.11ZM1260.1 481.8H1263.08V487.8H1260.1ZM1263.08 487.8H1266.07V496.8H1263.08ZM1266.07 496.8H1269.06V502.8H1266.07ZM1269.06 502.8H1272.04V511.8H1269.06ZM1272.04 511.8H1275.03V517.8H1272.04ZM1275.03 517.8H1278.01V526.8H1275.03ZM1278.01 526.8H1281V532.8H1278.01ZM1281 532.8H1283.98V538.8H1281ZM1283.98 538.8H1286.97V547.8H1283.98ZM1286.97 547.8H1289.95V553.8H1286.97ZM1289.95 553.8H1292.94V562.8H1289.95ZM1292.94 562.8H1295.92V568.8H1292.94ZM1295.92 568.8H1298.91V577.8H1295.92ZM1298.91 577.8H1301.89V583.8H1298.91ZM1301.89 583.8H1304.88V592.8H1301.89ZM1304.88 592.8H1307.87V598.8H1304.88ZM1307.87 598.8H1310.85V604.8H1307.87ZM1310.85 604.8H1313.84V613.8H1310.85ZM1313.84 613.8H1316.82V619.8H1313.84ZM1316.82 619.8H1319.81V628.8H1316.82ZM1319.81 628.8H1322.79V634.8H1319.81ZM1322.79 634.8H1325.78V643.8H1322.79ZM1325.78 643.8H1328.76V649.8H1325.78ZM1328.76 649.8H1331.75V655.8H1328.76ZM1331.75 655.8H1334.73V664.8H1331.75ZM1334.73 664.8H1337.72V670.8H1334.73ZM1337.72 670.8H1340.7V679.8H1337.72ZM1340.7 679.8H1343.69V685.8H1340.7ZM1343.69 685.8H1346.68V694.8H1343.69ZM1346.68 694.8H1349.66V700.8H1346.68ZM1349.66 700.8H1352.65V709.8H1349.66ZM1352.65 709.8H1355.63V715.8H1352.65ZM1355.63 715.8H1358.62V721.8H1355.63ZM1358.62 721.8H1361.6V730.8H1358.62ZM1361.6 730.8H1364.59V736.8H1361.6ZM1364.59 736.8H1367.57V745.8H1364.59ZM1367.57 745.8H1370.56V751.8H1367.57ZM1370.56 751.8H1373.54V760.8H1370.56ZM1373.54 760.8H1376.53V766.8H1373.54ZM1376.53 766.8H1379.52V772.8H1376.53ZM1379.52 772.8H1382.5V781.8H1379.52ZM1382.5 781.8H1385.49V787.8H1382.5ZM1385.49 787.8H1388.47V796.8H1385.49ZM1388.47 796.8H1391.46V802.8H1388.47ZM1391.46 802.8H1394.44V811.8H1391.46ZM1394.44 811.8H1397.43V817.8H1394.44ZM1397.43 817.8H1400.41V826.8H1397.43ZM1400.41 826.8H1403.4V832.8H1400.41ZM1403.4 832.8H1406.38V838.8H1403.4ZM1406.38 838.8H1409.37V847.8H1406.38ZM1409.37 847.8H1412.35V853.8H1409.37ZM1412.35 853.8H1415.34V862.8H1412.35ZM1415.34 862.8H1418.33V868.8H1415.34ZM1418.33 868.8H1421.31V877.8H1418.33ZM1421.31 877.8H1424.3V883.8H1421.31ZM1424.3 883.8H1427.28V889.8H1424.3ZM1427.28 889.8H1430.27V898.8H1427.28ZM1430.27 898.8H1433.25V904.8H1430.27ZM1433.25 904.8H1436.24V913.8H1433.25ZM1436.24 913.8H1439.22V919.8H1436.24ZM1439.22 919.8H1442.21V928.8H1439.22ZM1442.21 928.8H1445.19V934.8H1442.21ZM1445.19 934.8H1448.18V943.8H1445.19ZM1448.18 943.8H1451.16V949.8H1448.18ZM1451.16 949.8H1454.15V955.8H1451.16ZM1454.15 955.8H1457.14V967.8H1454.15Z"/>
<path fill="#871C8C" d="M325 271.8H349.15V274.8H325ZM349.15 268.8H381.9V271.8H349.15ZM381.9 265.8H412V268.8H381.9ZM412 262.8H444.7V265.8H412ZM444.7 259.8H476.93V262.8H444.7ZM476.93 256.8H509.17V259.8H476.93ZM509.17 253.8H541.4V256.8H509.17ZM541.4 250.8H573.63V253.8H541.4ZM573.63 247.8H605.87V250.8H573.63ZM605.87 244.8H638.1V247.8H605.87ZM638.1 241.8H670.33V244.8H638.1ZM670.33 238.8H702.57V241.8H670.33ZM702.57 235.8H734.8V238.8H702.57ZM734.8 232.8H767.03V235.8H734.8ZM767.03 229.8H799.27V232.8H767.03ZM799.27 226.8H831.5V229.8H799.27ZM831.5 223.8H863.73V226.8H831.5ZM863.73 220.8H895.97V223.8H863.73ZM895.97 217.8H928.2V220.8H895.97ZM928.2 214.8H961.04V217.8H928.2ZM961.04 211.8H994.1V214.8H961.04ZM994.1 208.8H1027.1V211.8H994.1ZM1027.1 205.8H1060V208.8H1027.1ZM1060 202.8H1071.8V205.8H1060ZM689.3 1102.8H710.1V1105.8H689.3ZM710.1 1099.8H743V1102.8H710.1ZM743 1096.8H776V1099.8H743ZM776 1093.8H808.8V1096.8H776ZM808.8 1090.8H838.8V1093.8H808.8ZM838.8 1087.8H871.7V1090.8H838.8ZM871.7 1084.8H904.35V1087.8H871.7ZM904.35 1081.8H936.73V1084.8H904.35ZM936.73 1078.8H969.11V1081.8H936.73ZM969.11 1075.8H1001.49V1078.8H969.11ZM1001.49 1072.8H1033.87V1075.8H1001.49ZM1033.87 1069.8H1066.25V1072.8H1033.87ZM1066.25 1066.8H1098.62V1069.8H1066.25ZM1098.62 1063.8H1131V1066.8H1098.62ZM1131 1060.8H1163.38V1063.8H1131ZM1163.38 1057.8H1195.76V1060.8H1163.38ZM1195.76 1054.8H1228.14V1057.8H1195.76ZM1228.14 1051.8H1260.52V1054.8H1228.14ZM1260.52 1048.8H1292.9V1051.8H1260.52ZM1292.9 1045.8H1322.7V1048.8H1292.9ZM1322.7 1042.8H1355.5V1045.8H1322.7ZM1355.5 1039.8H1388.1V1042.8H1355.5ZM1388.1 1036.8H1412.1V1039.8H1388.1ZM325 271.8H327.99V277.8H325ZM327.99 277.8H330.97V283.8H327.99ZM330.97 283.8H333.96V292.8H330.97ZM333.96 292.8H336.95V298.8H333.96ZM336.95 298.8H339.94V307.8H336.95ZM339.94 307.8H342.92V313.8H339.94ZM342.92 313.8H345.91V322.8H342.92ZM345.91 322.8H348.9V328.8H345.91ZM348.9 328.8H351.89V337.8H348.9ZM351.89 337.8H354.87V343.8H351.89ZM354.87 343.8H357.86V352.8H354.87ZM357.86 352.8H360.85V358.8H357.86ZM360.85 358.8H363.83V367.8H360.85ZM363.83 367.8H366.82V373.8H363.83ZM366.82 373.8H369.81V382.8H366.82ZM369.81 382.8H372.8V388.8H369.81ZM372.8 388.8H375.78V397.8H372.8ZM375.78 397.8H378.77V403.8H375.78ZM378.77 403.8H381.76V412.8H378.77ZM381.76 412.8H384.75V418.8H381.76ZM384.75 418.8H387.73V427.8H384.75ZM387.73 427.8H390.72V433.8H387.73ZM390.72 433.8H393.71V442.8H390.72ZM393.71 442.8H396.7V451.8H393.71ZM396.7 451.8H399.68V457.8H396.7ZM399.68 457.8H402.67V466.8H399.68ZM402.67 466.8H405.66V472.8H402.67ZM405.66 472.8H408.64V481.8H405.66ZM408.64 481.8H411.63V487.8H408.64ZM411.63 487.8H414.62V496.8H411.63ZM414.62 496.8H417.61V502.8H414.62ZM417.61 502.8H420.59V511.8H417.61ZM420.59 511.8H423.58V517.8H420.59ZM423.58 517.8H426.57V526.8H423.58ZM426.57 526.8H429.56V532.8H426.57ZM429.56 532.8H432.54V541.8H429.56ZM432.54 541.8H435.53V547.8H432.54ZM435.53 547.8H438.52V556.8H435.53ZM438.52 556.8H441.5V562.8H438.52ZM441.5 562.8H444.49V571.8H441.5ZM444.49 571.8H447.48V577.8H444.49ZM447.48 577.8H450.47V586.8H447.48ZM450.47 586.8H453.45V592.8H450.47ZM453.45 592.8H456.44V601.8H453.45ZM456.44 601.8H459.43V607.8H456.44ZM459.43 607.8H462.42V616.8H459.43ZM462.42 616.8H465.4V622.8H462.42ZM465.4 622.8H468.39V631.8H465.4ZM468.39 631.8H471.38V637.8H468.39ZM471.38 637.8H474.37V646.8H471.38ZM474.37 646.8H477.35V652.8H474.37ZM477.35 652.8H480.34V661.8H477.35ZM480.34 661.8H483.33V667.8H480.34ZM483.33 667.8H486.31V676.8H483.33ZM486.31 676.8H489.3V682.8H486.31ZM489.3 682.8H492.29V691.8H489.3ZM492.29 691.8H495.28V697.8H492.29ZM495.28 697.8H498.26V706.8H495.28ZM498.26 706.8H501.25V712.8H498.26ZM501.25 712.8H504.24V721.8H501.25ZM504.24 721.8H507.23V727.8H504.24ZM507.23 727.8H510.21V736.8H507.23ZM510.21 736.8H513.2V742.8H510.21ZM513.2 742.8H516.19V751.8H513.2ZM516.19 751.8H519.17V757.8H516.19ZM519.17 757.8H522.16V766.8H519.17ZM522.16 766.8H525.15V772.8H522.16ZM525.15 772.8H528.14V781.8H525.15ZM528.14 781.8H531.12V790.8H528.14ZM531.12 790.8H534.11V796.8H531.12ZM534.11 796.8H537.1V805.8H534.11ZM537.1 805.8H540.09V811.8H537.1ZM540.09 811.8H543.07V820.8H540.09ZM543.07 820.8H546.06V826.8H543.07ZM546.06 826.8H549.05V835.8H546.06ZM549.05 835.8H552.03V841.8H549.05ZM552.03 841.8H555.02V850.8H552.03ZM555.02 850.8H558.01V856.8H555.02ZM558.01 856.8H561V865.8H558.01ZM561 865.8H563.98V871.8H561ZM563.98 871.8H566.97V880.8H563.98ZM566.97 880.8H569.96V886.8H566.97ZM569.96 886.8H572.95V895.8H569.96ZM572.95 895.8H575.93V901.8H572.95ZM575.93 901.8H578.92V910.8H575.93ZM578.92 910.8H581.91V916.8H578.92ZM581.91 916.8H584.9V925.8H581.91ZM584.9 925.8H587.88V931.8H584.9ZM587.88 931.8H590.87V940.8H587.88ZM590.87 940.8H593.86V946.8H590.87ZM593.86 946.8H596.84V955.8H593.86ZM596.84 955.8H599.83V961.8H596.84ZM599.83 961.8H602.82V970.8H599.83ZM602.82 970.8H605.81V976.8H602.82ZM605.81 976.8H608.79V985.8H605.81ZM608.79 985.8H611.78V991.8H608.79ZM611.78 991.8H614.77V1000.8H611.78ZM614.77 1000.8H617.76V1006.8H614.77ZM617.76 1006.8H620.74V1015.8H617.76ZM620.74 1015.8H623.73V1021.8H620.74ZM623.73 1021.8H626.72V1030.8H623.73ZM626.72 1030.8H629.7V1036.8H626.72ZM629.7 1036.8H632.69V1045.8H629.7ZM632.69 1045.8H635.68V1051.8H632.69ZM635.68 1051.8H638.67V1060.8H635.68ZM638.67 1060.8H641.65V1066.8H638.67ZM641.65 1066.8H644.64V1075.8H641.65ZM644.64 1075.8H647.63V1081.8H644.64ZM647.63 1081.8H650.62V1090.8H647.63ZM650.62 1090.8H653.6V1096.8H650.62ZM653.6 1096.8H656.59V1105.8H653.6ZM1069 202.8H1071.98V208.8H1069ZM1071.98 208.8H1074.97V214.8H1071.98ZM1074.97 214.8H1077.95V220.8H1074.97ZM1077.95 220.8H1080.94V229.8H1077.95ZM1080.94 229.8H1083.92V235.8H1080.94ZM1083.92 235.8H1086.9V244.8H1083.92ZM1086.9 244.8H1089.89V250.8H1086.9ZM1089.89 250.8H1092.87V259.8H1089.89ZM1092.87 259.8H1095.86V265.8H1092.87ZM1095.86 265.8H1098.84V274.8H1095.86ZM1098.84 274.8H1101.83V280.8H1098.84ZM1101.83 280.8H1104.81V286.8H1101.83ZM1104.81 286.8H1107.79V295.8H1104.81ZM1107.79 295.8H1110.78V301.8H1107.79ZM1110.78 301.8H1113.76V310.8H1110.78ZM1113.76 310.8H1116.75V316.8H1113.76ZM1116.75 316.8H1119.73V325.8H1116.75ZM1119.73 325.8H1122.71V331.8H1119.73ZM1122.71 331.8H1125.7V340.8H1122.71ZM1125.7 340.8H1128.68V346.8H1125.7ZM1128.68 346.8H1131.67V352.8H1128.68ZM1131.67 352.8H1134.65V361.8H1131.67ZM1134.65 361.8H1137.63V367.8H1134.65ZM1137.63 367.8H1140.62V376.8H1137.63ZM1140.62 376.8H1143.6V382.8H1140.62ZM1143.6 382.8H1146.59V391.8H1143.6ZM1146.59 391.8H1149.57V397.8H1146.59ZM1149.57 397.8H1152.55V406.8H1149.57ZM1152.55 406.8H1155.54V412.8H1152.55ZM1155.54 412.8H1158.52V418.8H1155.54ZM1158.52 418.8H1161.51V427.8H1158.52ZM1161.51 427.8H1164.49V433.8H1161.51ZM1164.49 433.8H1167.48V442.8H1164.49ZM1167.48 442.8H1170.46V448.8H1167.48ZM1170.46 448.8H1173.44V457.8H1170.46ZM1173.44 457.8H1176.43V463.8H1173.44ZM1176.43 463.8H1179.41V472.8H1176.43ZM1179.41 472.8H1182.4V478.8H1179.41ZM1182.4 478.8H1185.38V484.8H1182.4ZM1185.38 484.8H1188.36V493.8H1185.38ZM1188.36 493.8H1191.35V499.8H1188.36ZM1191.35 499.8H1194.33V508.8H1191.35ZM1194.33 508.8H1197.32V514.8H1194.33ZM1197.32 514.8H1200.3V523.8H1197.32ZM1200.3 523.8H1203.28V529.8H1200.3ZM1203.28 529.8H1206.27V538.8H1203.28ZM1206.27 538.8H1209.25V544.8H1206.27ZM1209.25 544.8H1212.24V550.8H1209.25ZM1212.24 550.8H1215.22V559.8H1212.24ZM1215.22 559.8H1218.2V565.8H1215.22ZM1218.2 565.8H1221.19V574.8H1218.2ZM1221.19 574.8H1224.17V580.8H1221.19ZM1224.17 580.8H1227.16V589.8H1224.17ZM1227.16 589.8H1230.14V595.8H1227.16ZM1230.14 595.8H1233.13V604.8H1230.14ZM1233.13 604.8H1236.11V610.8H1233.13ZM1236.11 610.8H1239.09V616.8H1236.11ZM1239.09 616.8H1242.08V625.8H1239.09ZM1242.08 625.8H1245.06V631.8H1242.08ZM1245.06 631.8H1248.05V640.8H1245.06ZM1248.05 640.8H1251.03V646.8H1248.05ZM1251.03 646.8H1254.01V655.8H1251.03ZM1254.01 655.8H1257V661.8H1254.01ZM1257 661.8H1259.98V670.8H1257ZM1259.98 670.8H1262.97V676.8H1259.98ZM1262.97 676.8H1265.95V682.8H1262.97ZM1265.95 682.8H1268.93V691.8H1265.95ZM1268.93 691.8H1271.92V697.8H1268.93ZM1271.92 697.8H1274.9V706.8H1271.92ZM1274.9 706.8H1277.89V712.8H1274.9ZM1277.89 712.8H1280.87V721.8H1277.89ZM1280.87 721.8H1283.86V727.8H1280.87ZM1283.86 727.8H1286.84V736.8H1283.86ZM1286.84 736.8H1289.82V742.8H1286.84ZM1289.82 742.8H1292.81V748.8H1289.82ZM1292.81 748.8H1295.79V757.8H1292.81ZM1295.79 757.8H1298.78V763.8H1295.79ZM1298.78 763.8H1301.76V772.8H1298.78ZM1301.76 772.8H1304.74V778.8H1301.76ZM1304.74 778.8H1307.73V787.8H1304.74ZM1307.73 787.8H1310.71V793.8H1307.73ZM1310.71 793.8H1313.7V802.8H1310.71ZM1313.7 802.8H1316.68V808.8H1313.7ZM1316.68 808.8H1319.66V814.8H1316.68ZM1319.66 814.8H1322.65V823.8H1319.66ZM1322.65 823.8H1325.63V829.8H1322.65ZM1325.63 829.8H1328.62V838.8H1325.63ZM1328.62 838.8H1331.6V844.8H1328.62ZM1331.6 844.8H1334.58V853.8H1331.6ZM1334.58 853.8H1337.57V859.8H1334.58ZM1337.57 859.8H1340.55V868.8H1337.57ZM1340.55 868.8H1343.54V874.8H1340.55ZM1343.54 874.8H1346.52V880.8H1343.54ZM1346.52 880.8H1349.51V889.8H1346.52ZM1349.51 889.8H1352.49V895.8H1349.51ZM1352.49 895.8H1355.47V904.8H1352.49ZM1355.47 904.8H1358.46V910.8H1355.47ZM1358.46 910.8H1361.44V919.8H1358.46ZM1361.44 919.8H1364.43V925.8H1361.44ZM1364.43 925.8H1367.41V934.8H1364.43ZM1367.41 934.8H1370.39V940.8H1367.41ZM1370.39 940.8H1373.38V949.8H1370.39ZM1373.38 949.8H1376.36V955.8H1373.38ZM1376.36 955.8H1379.35V961.8H1376.36ZM1379.35 961.8H1382.33V970.8H1379.35ZM1382.33 970.8H1385.31V976.8H1382.33ZM1385.31 976.8H1388.3V985.8H1385.31ZM1388.3 985.8H1391.28V991.8H1388.3ZM1391.28 991.8H1394.27V1000.8H1391.28ZM1394.27 1000.8H1397.25V1006.8H1394.27ZM1397.25 1006.8H1400.24V1015.8H1397.25ZM1400.24 1015.8H1403.22V1021.8H1400.24ZM1403.22 1021.8H1406.2V1027.8H1403.22ZM1406.2 1027.8H1409.19V1036.8H1406.2Z"/>
</g></g>
<g filter="url(#b2)">
<text id="title" font-size="43.8" fill="#000" font-weight="bold" text-anchor="middle" transform="translate(858.2 61.9) scale(1.0000 1.0300)">D=300; Brf=100MHz</text>
<text id="xl" font-size="43.5" fill="#1c1c1c" text-anchor="middle" x="857" y="1213">k azimut</text>
<text id="yl" font-size="44.4" fill="#1c1c1c" text-anchor="middle" transform="translate(56 591.3) rotate(-90)">k range</text>
<text id="x0" font-size="39" fill="#1c1c1c" letter-spacing="1.5" x="204" y="1159">7.15</text>
<text id="x1" font-size="39" fill="#1c1c1c" letter-spacing="1" x="422.2" y="1159">7.2</text>
<text id="x2" font-size="39" fill="#1c1c1c" letter-spacing="1.5" x="616.6" y="1159">7.25</text>
<text id="x3" font-size="39" fill="#1c1c1c" letter-spacing="1" x="834.4" y="1159">7.3</text>
<text id="x4" font-size="39" fill="#1c1c1c" letter-spacing="1.5" x="1028.3" y="1159">7.35</text>
<text id="x5" font-size="39" fill="#1c1c1c" letter-spacing="1" x="1249.45" y="1159">7.4</text>
<text id="x6" font-size="39" fill="#1c1c1c" letter-spacing="1.5" x="1443.4" y="1159">7.45</text>
<text id="y0" font-size="39" fill="#1c1c1c" letter-spacing="0.5" x="78.1" y="280.4">-1.805</text>
<text id="y1" font-size="39" fill="#1c1c1c" letter-spacing="0.5" x="99.1" y="486.6">-1.81</text>
<text id="y2" font-size="39" fill="#1c1c1c" letter-spacing="0.5" x="78.1" y="692.85">-1.815</text>
<text id="y3" font-size="39" fill="#1c1c1c" letter-spacing="0.5" x="99.9" y="901.7">-1.82</text>
<text id="y4" font-size="39" fill="#1c1c1c" letter-spacing="0.5" x="78.1" y="1108.3">-1.825</text>
<text id="ex1" font-size="41" fill="#4a4a4a" x="211.3" y="76.4">×</text>
<text id="ex2" font-size="39" fill="#1c1c1c" x="242.3" y="71">1<tspan dx="-3.2">0</tspan></text>
<text id="ex3" font-size="34.5" fill="#1c1c1c" x="285" y="52.8">5</text>
<text id="ex4" font-size="41" fill="#4a4a4a" x="1411.8" y="1224">×</text>
<text id="ex5" font-size="39" fill="#1c1c1c" x="1443.3" y="1218.8">1<tspan dx="-1.6">0</tspan></text>
<text id="ex6" font-size="34" fill="#1c1c1c" x="1486.5" y="1200.8">4</text>
</g>
</svg>
</body>
</html>
